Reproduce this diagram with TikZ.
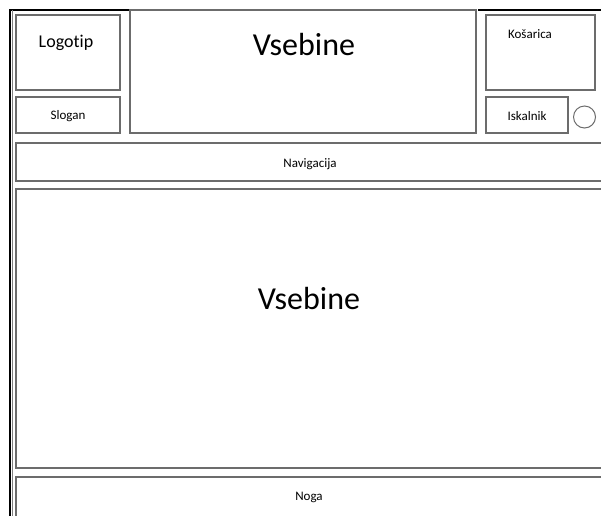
\documentclass[tikz,border=0pt]{standalone}
\usepackage{fontspec}
\setmainfont[Ligatures=NoCommon]{Carlito}
\begin{document}
\begin{tikzpicture}[x=1pt,y=-1pt,
  box/.style={draw=gray!85!black, line width=1.4pt},
  frame/.style={draw=black, line width=1.8pt},
  lbl/.style={font=\fontsize{13}{15}\selectfont, text=black},
  big/.style={font=\fontsize{32}{36}\selectfont, text=black}]
\useasboundingbox (0,0) rectangle (601,515);
\clip (0,0) rectangle (601,515);
\fill[white] (0,0) rectangle (601,515);
% outer frame lines
\coordinate (fl1) at (10,10);
\coordinate (fl2) at (10,520);
\coordinate (ft1) at (130,10);
\coordinate (fr1) at (478,10);
\coordinate (fr2) at (605,10);
\draw[frame] (fl2) -- (fl1) -- (ft1);
\draw[frame] (fr1) -- (fr2);
\draw[gray, line width=0.8pt] (12,10) -- (12,520);
% boxes
\draw[box] (16,15) rectangle (120,90);
\node[font=\fontsize{18}{21}\selectfont] (logo) at (66,43) {Logotip};
\draw[box] (16,97) rectangle (120,133);
\node[lbl] (slogan) at (68,116) {Slogan};
\draw[box] (130,10) rectangle (476,133);
\node[big] (vtop) at (304,45) {Vsebine};
\draw[box] (486,15) rectangle (595,90);
\node[lbl] (kos) at (530,34) {Košarica};
\draw[box] (486,97) rectangle (568,133);
\node[lbl] (isk) at (527,116) {Iskalnik};
\node[draw=gray!85!black, line width=1pt, circle, minimum size=22pt, inner sep=0pt] (circ) at (584.5,117) {};
\draw[box] (16,143) rectangle (610,181);
\node[lbl] (nav) at (310,164) {Navigacija};
\draw[box] (16,189) rectangle (610,468);
\node[big] (vmain) at (309,298) {Vsebine};
\draw[box] (16,477) rectangle (610,525);
\node[lbl] (noga) at (309,497) {Noga};
\end{tikzpicture}
\end{document}
